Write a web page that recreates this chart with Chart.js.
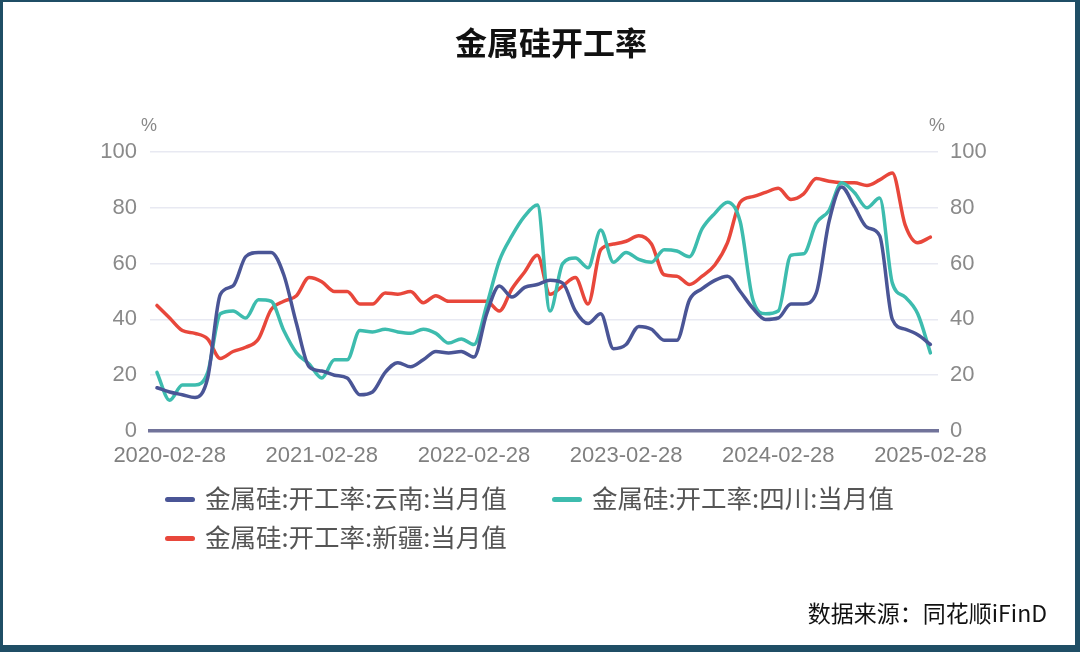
<!DOCTYPE html>
<html>
<head>
<meta charset="utf-8">
<script src="https://cdn.jsdelivr.net/npm/chart.js@4.4.1/dist/chart.umd.min.js"></script>
<style>
  body { margin: 0; width: 1080px; height: 652px; background: #fff; position: relative; overflow: hidden;
         font-family: "Noto Sans CJK SC", "Noto Sans", sans-serif; }
  #chart { position: absolute; left: 0; top: 0; }
  #frame { position: absolute; left: 0; top: 0; width: 1080px; height: 652px; box-sizing: border-box;
           border-style: solid; border-color: #1f4e65; border-width: 2px 5px 7px 3px; pointer-events: none; }
  #title { position: absolute; left: 0; top: 19px; width: 1102px; text-align: center;
           font-size: 32px; font-weight: bold; line-height: 44px; color: #111; }
  .unit { position: absolute; top: 115px; font-family: "Liberation Sans", Arial, sans-serif; font-size: 18px; color: #888; }
  .item { position: absolute; height: 34px; line-height: 34px; font-size: 25.5px; color: #555; white-space: nowrap; }
  .item i { display: inline-block; width: 30px; height: 5px; border-radius: 3px; vertical-align: middle; margin-right: 10px; position: relative; top: -2px; }
  #source { position: absolute; right: 33px; top: 596px; font-size: 23px; line-height: 32px; color: #111; }
</style>
</head>
<body>
<canvas id="chart" width="1080" height="652"></canvas>
<div id="title">金属硅开工率</div>
<span class="unit" style="left:141px">%</span>
<span class="unit" style="left:929px">%</span>
<div id="legend"></div>
<div id="source">数据来源：同花顺iFinD</div>
<div id="frame"></div>
<script>
// monthly points, index 0 = 2020-01 ... 61 = 2025-02
const tickIndex = [1, 13, 25, 37, 49, 61]
const tickLabels = ['2020-02-28', '2021-02-28', '2022-02-28', '2023-02-28', '2024-02-28', '2025-02-28']

const yunnan = [
  15.5, 14, 13, 12, 19, 49, 52, 62.5, 64, 64,
  56, 38.5, 23, 21.5, 20, 19, 13, 14, 21, 24.5,
  23, 25.5, 28.5, 28, 28.5, 26.5, 42, 52, 48, 51.5,
  52.5, 54, 53, 43, 38.5, 42, 29.5, 31, 37.5, 36.5,
  32.5, 32.5, 47, 51, 54, 55.5, 50, 44, 40, 40.5,
  45.5, 45.5, 49.5, 75, 87.5, 80.5, 73, 70, 40, 36.5,
  34.5, 31
]
const sichuan = [
  21, 11, 16.5, 16.5, 21, 42, 43, 40.5, 47, 46.5,
  36, 28, 24, 19, 25.5, 25.5, 36, 35.5, 36.5, 35.5,
  35, 36.5, 35, 31.5, 33, 31, 45, 61, 70, 77,
  81, 43, 60, 62, 58.5, 72, 60.5, 64, 61.5, 60.5,
  65, 64.5, 62.5, 72.5, 78, 82, 75, 47, 42, 43,
  63, 63.5, 74.5, 79, 89, 85.5, 80, 83.5, 53, 48,
  42, 28
]
const xinjiang = [
  45, 40.5, 36, 35, 33, 26, 28.5, 30, 33, 43.5,
  46.5, 48.5, 55, 53.5, 50, 50, 45.5, 45.5, 49.5, 49,
  50, 46, 48.5, 46.5, 46.5, 46.5, 46.5, 43, 51, 57,
  63, 49, 52, 55, 45.5, 65, 67, 68, 70, 67,
  56, 55.5, 52.5, 55.5, 59.5, 67.5, 82, 84, 85.5, 87,
  83, 85, 90.5, 89.5, 89, 89, 88, 90, 92.5, 74,
  67.5, 69.5
]

const seriesNames = ['金属硅:开工率:云南:当月值', '金属硅:开工率:四川:当月值', '金属硅:开工率:新疆:当月值']
const seriesColors = ['#4a5596', '#3dbcae', '#e8473b']

const toPoints = arr => arr.map((v, i) => ({ x: i, y: v }))

const tickFont = { family: '"Liberation Sans", Arial, sans-serif', size: 22 }

const chart = new Chart(document.getElementById('chart'), {
  type: 'line',
  data: {
    datasets: [yunnan, sichuan, xinjiang].map((arr, k) => ({
      label: seriesNames[k],
      data: toPoints(arr),
      borderColor: seriesColors[k],
      backgroundColor: seriesColors[k],
      yAxisID: 'y'
    }))
  },
  options: {
    responsive: false,
    animation: false,
    layout: { padding: { top: 152, left: 0, right: 0, bottom: 0 } },
    plugins: { legend: { display: false }, title: { display: false }, tooltip: { enabled: false } },
    elements: {
      point: { radius: 0 },
      line: { borderWidth: 3.5, cubicInterpolationMode: 'monotone', borderCapStyle: 'round', borderJoinStyle: 'round' }
    },
    scales: {
      x: {
        type: 'linear', min: -0.55, max: 61.6,
        grid: { display: false },
        border: { display: true, color: '#71739a', width: 3.5 },
        afterBuildTicks: s => { s.ticks = tickIndex.map(v => ({ value: v })) },
        afterFit: s => { s.height = 652 - 431 },
        ticks: {
          padding: 4, color: '#808080', font: tickFont, maxRotation: 0, autoSkip: false,
          callback: v => tickLabels[tickIndex.indexOf(v)]
        }
      },
      y: {
        position: 'left', min: 0, max: 100,
        grid: { color: '#e8e9f2', lineWidth: 1.5, drawTicks: false },
        border: { display: false },
        afterFit: s => { s.width = 150 },
        ticks: { stepSize: 20, padding: 13, color: '#8a8a8a', font: tickFont }
      },
      y2: {
        position: 'right', min: 0, max: 100,
        grid: { display: false, drawTicks: false },
        border: { display: false },
        afterFit: s => { s.width = 142 },
        ticks: { stepSize: 20, padding: 12, color: '#8a8a8a', font: tickFont }
      }
    }
  }
})

// legend: two columns, second row starts under the first item
const legendPos = [[165, 480], [552, 480], [165, 519]]
const legend = document.getElementById('legend')
chart.data.datasets.forEach((ds, k) => {
  const d = document.createElement('div')
  d.className = 'item'
  d.style.left = legendPos[k][0] + 'px'
  d.style.top = legendPos[k][1] + 'px'
  d.innerHTML = '<i style="background:' + ds.borderColor + '"></i>' + ds.label
  legend.appendChild(d)
})
</script>
</body>
</html>
